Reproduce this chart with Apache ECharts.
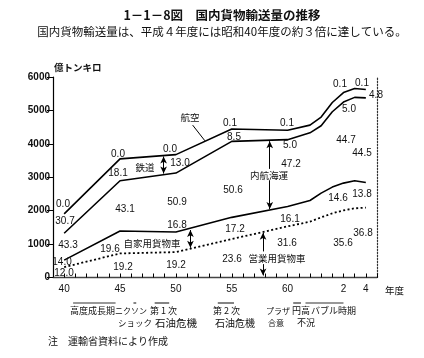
<!DOCTYPE html>
<html><head><meta charset="utf-8">
<script src="https://cdn.jsdelivr.net/npm/echarts@6/dist/echarts.min.js"></script>
<style>html,body{margin:0;padding:0;background:#fff}#c{width:424px;height:358px}</style>
</head><body><div id="c"></div>
<script>
// ---- data (億トンキロ) ----
const years          = [1965,1970,1975,1980,1985,1987,1988,1989,1990,1991,1992];
const commercialTruck= [310, 720, 760,1150,1530,1670,1800,1920,2010,2070,2090];
const privateTruck   = [210, 670, 600, 650, 595, 635, 725, 785, 815, 825, 755];
const coastal        = [805,1505,1765,2275,2000,2025,2015,2255,2425,2495,2530];
const rail           = [580, 655, 550, 365, 275, 225, 255, 270, 277, 257, 241];
const air            = [0.2, 0.7, 1.5, 2.9, 4.8, 5.5, 6.5, 7.5, 8.0, 8.3, 8.6];

// shares (%) printed on the chart at S40,45,50,55,60,H2,H4
const pctAir        = [0.0, 0.0, 0.0, 0.1, 0.1, 0.1, 0.1];
const pctRail       = [30.7,18.1,13.0, 8.5, 5.0, 5.0, 4.8];
const pctCoastal    = [43.3,43.1,50.9,50.6,47.2,44.7,44.5];
const pctPrivate    = [14.0,19.6,16.8,17.2,16.1,14.6,13.8];
const pctCommercial = [12.0,19.2,19.2,23.6,31.6,35.6,36.8];

const xTickYears  = [1965,1970,1975,1980,1985,1990,1992];
const xTickLabels = ['40','45','50','55','60','2','4'];

// historical periods marked under the axis [start, end]
const periods = [[1965.8,1969.6],[1971.2,1971.45],[1973.1,1974.4],[1978.75,1980.2],[1985.5,1986.2],[1986.6,1990.0]];

// ---- layout ----
const labelPos = {
  air:        [[63,204],[118,154],[170,149],[230,123],[287,123],[340,84],[362,83]],
  rail:       [[65,221],[118,173],[180,163],[234,137],[290,145],[349,109],[376,95]],
  coastal:    [[68,245],[125,209],[177,202],[233,190],[291,164],[346,140],[362,153]],
  private:    [[62,262],[110,249],[177,225],[235,229],[290,219],[338,198],[362,194]],
  commercial: [[64,273],[123,267],[176,265],[232,259],[287,243],[343,243],[363,233]]
};
const numFont = '10px "Liberation Sans", Arial, sans-serif';
const jpFont = (s) => s + 'px "Noto Sans CJK JP", sans-serif';

const chart = echarts.init(document.getElementById('c'), null, {renderer:'canvas'});

// cumulative stacking (bottom → top)
const layers = [commercialTruck, privateTruck, coastal, rail, air];
const cum = [];
layers.forEach((arr, k) => cum.push(arr.map((v,i) => v + (k ? cum[k-1][i] : 0))));

function seriesLine(name, data, dotted, hidden) {
  return {
    name, type:'line', data: years.map((y,i)=>[y,data[i]]),
    symbol:'none', silent:true, animation:false, z:3,
    lineStyle:{color:'#000', width: dotted?1.8:1.6, type: dotted?[2,2.4]:'solid', opacity: hidden?0:1},
    emphasis:{disabled:true}
  };
}
function arrow(x, y1, y2, s1, s2) {
  return [{coord:[x,y1], symbol:s1, symbolSize:[5,7]},{coord:[x,y2], symbol:s2, symbolSize:[5,7]}];
}

const option = {
  animation:false,
  grid:{left:53, right:47, top:77, bottom:80.5, containLabel:false},
  xAxis:[{
    type:'value', min:1964, max:1993, interval:1,
    axisLine:{show:true, lineStyle:{color:'#000', width:1.2}},
    axisTick:{show:true, inside:true, length:4, lineStyle:{color:'#000', width:1}},
    splitLine:{show:false},
    axisLabel:{show:true, margin:7, color:'#111', fontSize:10, fontFamily:'"Liberation Sans", Arial, sans-serif',
      formatter:(v)=>{const i=xTickYears.indexOf(v); return i>=0?xTickLabels[i]:'';}}
  },{
    type:'value', position:'top', min:1964, max:1993,
    axisLine:{show:true, lineStyle:{color:'#444', width:1.3}},
    axisTick:{show:false}, axisLabel:{show:false}, splitLine:{show:false}
  }],
  yAxis:[{
    type:'value', min:0, max:6000, interval:1000,
    axisLine:{show:true, lineStyle:{color:'#000', width:1.2}},
    axisTick:{show:true, length:6, lineStyle:{color:'#000'}},
    splitLine:{show:false},
    axisLabel:{margin:3, color:'#111', fontSize:10, fontWeight:'bold', fontFamily:'"Liberation Sans", Arial, sans-serif',
      formatter:(v)=>String(v)}
  },{
    type:'value', position:'right', min:0, max:6000,
    axisLine:{show:true, lineStyle:{color:'#333', width:1.2, type:[1.5,1.5]}},
    axisTick:{show:false}, axisLabel:{show:false}, splitLine:{show:false}
  }],
  series:[
    seriesLine('営業用貨物車', cum[0], true),
    seriesLine('自家用貨物車', cum[1], false),
    seriesLine('内航海運', cum[2], false),
    seriesLine('鉄道', cum[3], false, true),   // coincides with the 航空 line on top
    seriesLine('航空', cum[4], false),
    {
      type:'scatter', data:[], silent:true, animation:false,
      markLine:{
        silent:true, animation:false, label:{show:false},
        lineStyle:{color:'#000', width:1, type:'solid'},
        emphasis:{disabled:true},
        data:[
          arrow(1973.9, 3620, 3110, 'arrow','arrow'),
          arrow(1976.3, 1420, 890, 'arrow','arrow'),
          arrow(1983.4, 4080, 3250, 'arrow','none'),
          arrow(1983.4, 2910, 2050, 'none','arrow'),
          arrow(1982.8, 1340, 780, 'arrow','none'),
          arrow(1982.8, 400, 60, 'none','arrow'),
          [{coord:[1976.5,4560], symbol:'none'},{coord:[1977.6,4090], symbol:'none'}]
        ]
      }
    }
  ]
};
chart.setOption(option);

// ---- annotations ----
const g = [];
function txt(text, x, y, font, align) {
  g.push({type:'text', silent:true, z:100, style:{text, x, y, font, fill:'#111',
    textAlign: align||'center', textVerticalAlign:'middle'}});
}
const groups = [['air',pctAir],['rail',pctRail],['coastal',pctCoastal],['private',pctPrivate],['commercial',pctCommercial]];
groups.forEach(([k,arr])=>arr.forEach((v,i)=>txt(v.toFixed(1), labelPos[k][i][0], labelPos[k][i][1], numFont)));

txt('航空', 190, 117, jpFont(9.5));
txt('鉄道', 145, 167, jpFont(9.5));
txt('内航海運', 269, 175, jpFont(9.5));
txt('自家用貨物車', 152, 243, jpFont(9.5));
txt('営業用貨物車', 277, 258, jpFont(9.5));

txt('1－1－8図　国内貨物輸送量の推移', 222, 15, 'bold ' + jpFont(12.5));
txt('国内貨物輸送量は、平成４年度には昭和40年度の約３倍に達している。', 222, 32, jpFont(11.5));
txt('億トンキロ', 54, 67, 'bold ' + jpFont(9.5), 'left');
txt('年度', 385, 290, jpFont(9.5), 'left');

// period captions
txt('高度成長期', 70, 311, jpFont(9), 'left');
txt('ニクソン', 115, 311, jpFont(8), 'left');
txt('第 1 次', 150, 311, jpFont(9), 'left');
txt('ショック', 118, 323, jpFont(8.5), 'left');
txt('石油危機', 155, 323, jpFont(10.5), 'left');
txt('第 2 次', 213, 311, jpFont(9), 'left');
txt('石油危機', 215, 323, jpFont(10), 'left');
txt('プラザ', 266, 311, jpFont(8), 'left');
txt('合意', 268, 323, jpFont(8), 'left');
txt('円高', 292, 311, jpFont(9), 'left');
txt('不況', 297, 323, jpFont(9), 'left');
txt('バブル時期', 311, 311, jpFont(9), 'left');
txt('注　運輸省資料により作成', 48, 341, jpFont(10), 'left');

periods.forEach(([a,b])=>{
  const x1 = chart.convertToPixel({xAxisIndex:0}, a);
  const x2 = chart.convertToPixel({xAxisIndex:0}, b);
  g.push({type:'line', silent:true, shape:{x1, y1:303, x2, y2:303}, style:{stroke:'#333', lineWidth:1.2}});
});

chart.setOption({graphic:{elements:g}});
</script>
</body></html>
